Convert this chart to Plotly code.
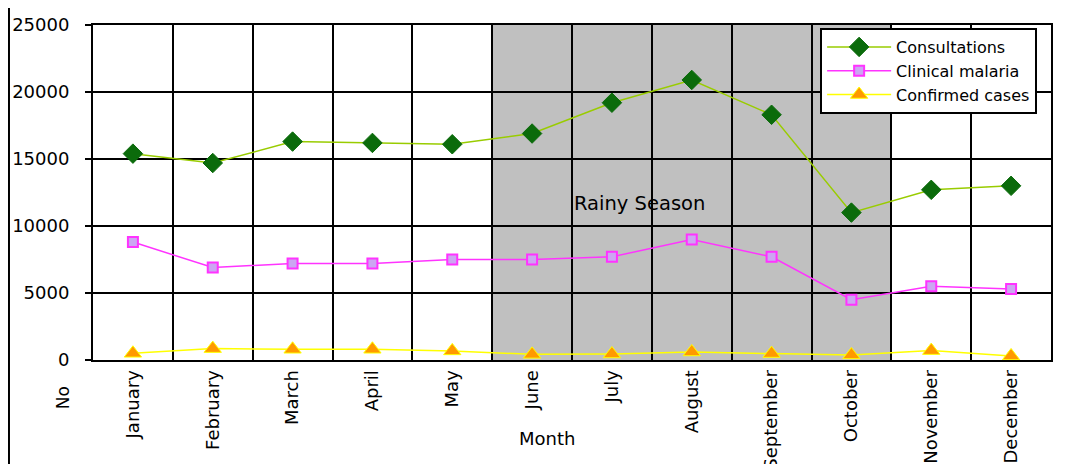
import plotly.graph_objects as go

months = ["January", "February", "March", "April", "May", "June", "July",
          "August", "September", "October", "November", "December"]
consultations = [15400, 14700, 16300, 16200, 16100, 16900, 19200, 20900, 18300, 11000, 12700, 13000]
clinical_malaria = [8800, 6900, 7200, 7200, 7500, 7500, 7700, 9000, 7700, 4500, 5500, 5300]
confirmed_cases = [500, 850, 800, 800, 680, 420, 450, 600, 480, 380, 700, 300]
y_ticks = [0, 5000, 10000, 15000, 20000, 25000]
rainy_start, rainy_end = "June", "October"

FONT = "DejaVu Sans"
fig = go.Figure()
fig.add_trace(go.Scatter(
    x=months, y=consultations, name="Consultations", mode="lines+markers",
    line=dict(color="#99CC00", width=1.5),
    marker=dict(symbol="diamond", size=15, color="#0B6B0B", line=dict(color="#0B6B0B", width=1))))
fig.add_trace(go.Scatter(
    x=months, y=clinical_malaria, name="Clinical malaria", mode="lines+markers",
    line=dict(color="#FF33FF", width=1.5),
    marker=dict(symbol="square", size=10, color="#CCA6F2", line=dict(color="#FF33FF", width=2))))
fig.add_trace(go.Scatter(
    x=months, y=confirmed_cases, name="Confirmed cases", mode="lines+markers",
    line=dict(color="#FFFF00", width=1.5),
    marker=dict(symbol="triangle-up", size=15, color="#FF9900", line=dict(color="#FFFF00", width=1))))

i0 = months.index(rainy_start) - 0.5
i1 = months.index(rainy_end) + 0.5
fig.add_shape(type="rect", xref="x", yref="y", x0=i0, x1=i1, y0=0, y1=25000,
              fillcolor="#C0C0C0", line=dict(width=0), layer="below")
fig.add_annotation(x=6.35, y=11700, xref="x", yref="y", text="Rainy Season",
                   xanchor="center", yanchor="middle",
                   showarrow=False, font=dict(family=FONT, size=19.5, color="black"))
fig.add_annotation(x=-0.031, y=-0.113, xref="paper", yref="paper", text="No", textangle=-90,
                   xanchor="center", yanchor="middle",
                   showarrow=False, font=dict(family=FONT, size=17, color="black"))
fig.add_annotation(x=0.474, y=-0.233, xref="paper", yref="paper", text="Month",
                   xanchor="center", yanchor="middle",
                   showarrow=False, font=dict(family=FONT, size=18, color="black"))
# outer frame
fig.add_shape(type="line", xref="paper", yref="paper", x0=-0.0877, x1=1.03, y0=1.0537, y1=1.0537,
              line=dict(color="black", width=2))
fig.add_shape(type="line", xref="paper", yref="paper", x0=-0.0877, x1=-0.0877, y0=-0.32, y1=1.0537,
              line=dict(color="black", width=2))

fig.update_layout(
    width=1060, height=456,
    margin=dict(l=85, r=17, t=17, b=104, autoexpand=False),
    paper_bgcolor="white", plot_bgcolor="white",
    font=dict(family=FONT, size=17, color="black"),
    showlegend=True,
    legend=dict(x=0.759, y=0.991, xanchor="left", yanchor="top",
                bgcolor="white", bordercolor="black", borderwidth=2,
                font=dict(family=FONT, size=16), itemwidth=64,
                tracegroupgap=0),
    xaxis=dict(type="category", range=[-0.5, 11.5], tickson="boundaries", automargin=False,
               showgrid=True, gridcolor="black", gridwidth=2,
               showline=True, linecolor="black", linewidth=2, mirror=True,
               ticks="", tickangle=-90, tickfont=dict(family=FONT, size=18),
               ticklabelstandoff=1),
    yaxis=dict(range=[0, 25000], tickvals=y_ticks, ticktext=[str(v) for v in y_ticks],
               automargin=False,
               showgrid=True, gridcolor="black", gridwidth=2,
               showline=True, linecolor="black", linewidth=2, mirror=True,
               ticks="outside", ticklen=6, tickcolor="black", tickwidth=2,
               tickfont=dict(family=FONT, size=18), ticklabelstandoff=12,
               zeroline=False),
)
fig.write_html("out.html")
